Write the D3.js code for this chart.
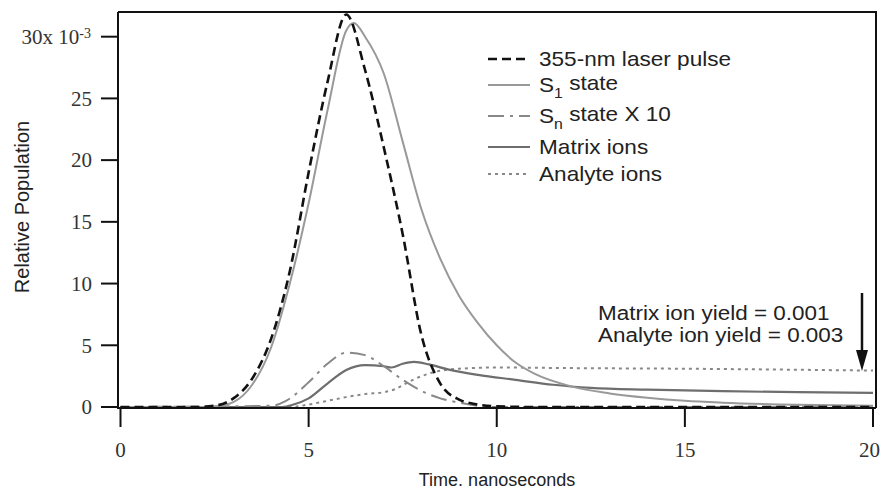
<!DOCTYPE html>
<html>
<head>
<meta charset="utf-8">
<script src="https://cdn.jsdelivr.net/npm/d3@7"></script>
<style>
    body { margin: 0; background: #fff; }
    svg { display: block; }
    .tick-label { font-family: "Liberation Serif", "DejaVu Serif", serif; font-size: 21px; fill: #333; }
    .axis-title { font-family: "Liberation Sans", Arial, sans-serif; fill: #222; }
    .legend-text { font-family: "Liberation Sans", Arial, sans-serif; font-size: 20px; fill: #222; }
    .note-text { font-family: "Liberation Sans", Arial, sans-serif; font-size: 21px; fill: #222; }
</style>
</head>
<body>
<div id="chart"></div>
<script>
// Values (time in ns, population in units of 1e-3)
const xTicks = [0, 5, 10, 15, 20];
const yTicks = [0, 5, 10, 15, 20, 25, 30];

const laserT = [0, 2, 2.5, 3, 3.5, 4, 4.5, 5, 5.5, 6, 6.5, 7, 7.5, 8, 8.5, 9, 9.5, 10, 11, 20];
const laserV = [0, 0, 0.1, 0.7, 2.3, 5.5, 11, 19, 26.3, 31.8, 27.3, 21, 14, 5.8, 1.9, 0.6, 0.2, 0.05, 0, 0];

const s1T = [0, 2, 2.5, 3, 3.5, 4, 4.5, 5, 5.5, 6, 6.2, 6.5, 7, 7.5, 8, 8.5, 9, 9.5, 10, 10.5, 11, 12, 13, 14, 15, 16, 18, 20];
const s1V = [0, 0, 0.05, 0.4, 1.8, 4.8, 10, 16.5, 24, 30.5, 31.1, 30, 27, 21.5, 16, 12, 9, 6.8, 5.0, 3.6, 2.7, 1.65, 1.1, 0.75, 0.5, 0.35, 0.18, 0.1];

const snT = [0, 4, 4.4, 5, 5.5, 6, 6.5, 7, 7.5, 8, 8.5, 9, 9.5, 10, 20];
const snV = [0, 0.1, 0.5, 2.0, 3.5, 4.4, 4.2, 3.3, 2.2, 1.3, 0.7, 0.35, 0.1, 0, 0];

const matrixT = [0, 4.3, 4.6, 5, 5.5, 6, 6.5, 7, 7.2, 7.5, 7.8, 8.2, 8.7, 9.5, 10.5, 11.5, 12.5, 14, 16, 18, 20];
const matrixV = [0, 0, 0.2, 0.7, 1.9, 3.0, 3.4, 3.3, 3.2, 3.5, 3.65, 3.45, 3.05, 2.6, 2.2, 1.8, 1.55, 1.4, 1.28, 1.2, 1.15];

const analyteT = [0, 4.5, 5, 5.5, 6, 6.5, 7, 7.3, 7.7, 8.3, 9, 10, 12, 15, 20];
const analyteV = [0, 0, 0.2, 0.5, 0.8, 1.05, 1.2, 1.45, 2.1, 2.8, 3.1, 3.2, 3.15, 3.1, 2.95];

const seriesNames = ['355-nm laser pulse', 'S1 state', 'Sn state X 10', 'Matrix ions', 'Analyte ions'];

const width = 881, height = 490;
const plot = { left: 118, right: 876, top: 12, bottom: 408 };

const x = d3.scaleLinear().domain([0, 20]).range([120.5, 873]);
const y = d3.scaleLinear().domain([0, 32]).range([407, 12]);

const svg = d3.select('#chart').append('svg')
    .attr('width', width)
    .attr('height', height);

const series = [
    { name: seriesNames[0], t: laserT, v: laserV, color: '#111', width: 2.6, dash: '9,5' },
    { name: seriesNames[1], t: s1T, v: s1V, color: '#999', width: 2, dash: null },
    { name: seriesNames[2], t: snT, v: snV, color: '#888', width: 2, dash: '16,6,3,6' },
    { name: seriesNames[3], t: matrixT, v: matrixV, color: '#6e6e6e', width: 2.2, dash: null },
    { name: seriesNames[4], t: analyteT, v: analyteV, color: '#888', width: 2, dash: '3,4' }
];

const line = d3.line()
    .x(d => x(d[0]))
    .y(d => y(d[1]))
    .curve(d3.curveMonotoneX);

// Curves
const curveGroup = svg.append('g').attr('class', 'curves');
series.slice().reverse().forEach(s => {
    const pts = s.t.map((t, i) => [t, s.v[i]]);
    curveGroup.append('path')
        .datum(pts)
        .attr('fill', 'none')
        .attr('stroke', s.color)
        .attr('stroke-width', s.width)
        .attr('stroke-dasharray', s.dash)
        .attr('d', line);
});

// Frame (top + right)
svg.append('path')
    .attr('d', `M${plot.left},${plot.top}H${plot.right}V${plot.bottom}`)
    .attr('fill', 'none')
    .attr('stroke', '#111')
    .attr('stroke-width', 2);

// Left axis
const yAxis = svg.append('g').attr('transform', `translate(${plot.left},0)`);
yAxis.append('line')
    .attr('y1', plot.top).attr('y2', plot.bottom + 1)
    .attr('stroke', '#111').attr('stroke-width', 2);
yAxis.selectAll('.ytick').data(yTicks).enter()
    .append('line')
    .attr('x1', -17).attr('x2', 0)
    .attr('y1', d => y(d)).attr('y2', d => y(d))
    .attr('stroke', '#111').attr('stroke-width', 2);

const yLabels = yAxis.selectAll('.ylab').data(yTicks).enter()
    .append('text')
    .attr('class', 'tick-label')
    .attr('x', -26)
    .attr('y', d => y(d))
    .attr('dy', '0.35em')
    .attr('text-anchor', 'end');
yLabels.filter(d => d !== 30).text(d => d);
const topLabel = yLabels.filter(d => d === 30).attr('x', -27);
topLabel.append('tspan').text('30x 10');
topLabel.append('tspan').attr('dy', '-0.45em').attr('font-size', '14px').text('-3');

// Bottom axis
const xAxis = svg.append('g').attr('transform', `translate(0,${plot.bottom})`);
xAxis.append('line')
    .attr('x1', plot.left - 1).attr('x2', plot.right)
    .attr('stroke', '#111').attr('stroke-width', 2);
xAxis.selectAll('.xtick').data(xTicks).enter()
    .append('line')
    .attr('x1', d => x(d)).attr('x2', d => x(d))
    .attr('y1', 0).attr('y2', 19)
    .attr('stroke', '#111').attr('stroke-width', 2);
xAxis.selectAll('.xlab').data(xTicks).enter()
    .append('text')
    .attr('class', 'tick-label')
    .attr('x', d => d === 20 ? 880 : x(d))
    .attr('y', 49)
    .attr('text-anchor', d => d === 20 ? 'end' : 'middle')
    .text(d => d);

// Axis titles
svg.append('text')
    .attr('class', 'axis-title')
    .attr('font-size', 18)
    .attr('x', 497).attr('y', 486)
    .attr('text-anchor', 'middle')
    .text('Time. nanoseconds');
svg.append('text')
    .attr('class', 'axis-title')
    .attr('font-size', 20)
    .attr('transform', 'translate(29,207) rotate(-90)')
    .attr('text-anchor', 'middle')
    .text('Relative Population');

// Legend (text is a bit wide in the source, so stretch it horizontally)
const rowY = [59, 85, 116, 147, 174];
const legend = svg.append('g').attr('transform', 'translate(488,0)');
series.forEach((s, i) => {
    const row = legend.append('g').attr('transform', `translate(0,${rowY[i]})`);
    row.append('line')
        .attr('x1', 0).attr('x2', 42)
        .attr('stroke', s.color)
        .attr('stroke-width', s.width)
        .attr('stroke-dasharray', s.dash);
    const label = row.append('text')
        .attr('class', 'legend-text')
        .attr('transform', 'translate(51,0) scale(1.13,1)')
        .attr('dy', '0.35em');
    if (i === 1 || i === 2) {
        label.append('tspan').text('S');
        label.append('tspan').attr('dy', '0.4em').attr('font-size', '14px').text(i === 1 ? '1' : 'n');
        label.append('tspan').attr('dy', '-0.4em').text(i === 1 ? ' state' : ' state X 10');
    } else {
        label.text(s.name);
    }
});

// Yield annotation and arrow
svg.append('text').attr('class', 'note-text')
    .attr('transform', 'translate(598,320) scale(1.07,1)')
    .text('Matrix ion yield = 0.001');
svg.append('text').attr('class', 'note-text')
    .attr('transform', 'translate(598,342) scale(1.07,1)')
    .text('Analyte ion yield = 0.003');

svg.append('line')
    .attr('x1', 862).attr('x2', 862)
    .attr('y1', 293).attr('y2', 354)
    .attr('stroke', '#111').attr('stroke-width', 2.5);
svg.append('path')
    .attr('d', 'M856,350L868,350L862,371Z')
    .attr('fill', '#111');
</script>
</body>
</html>
